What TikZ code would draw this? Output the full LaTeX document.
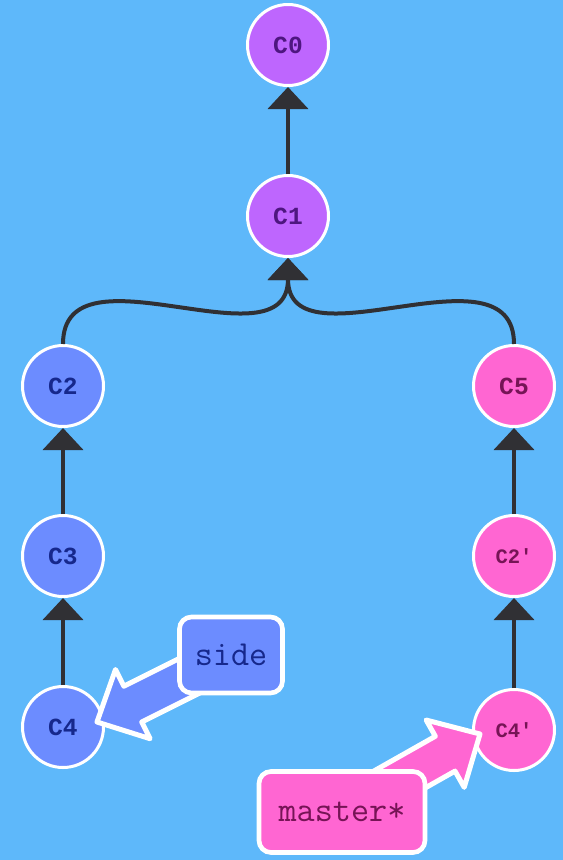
\documentclass[tikz,border=0pt]{standalone}
\usepackage{fontspec}
\newfontfamily\commitfont{Liberation Mono}
\usetikzlibrary{arrows.meta,calc}
\definecolor{bgblue}{RGB}{94,184,250}
\definecolor{cpurple}{RGB}{190,102,254}
\definecolor{tpurple}{RGB}{78,22,128}
\definecolor{cblue}{RGB}{108,140,255}
\definecolor{tblue}{RGB}{22,40,140}
\definecolor{cpink}{RGB}{255,102,210}
\definecolor{tpink}{RGB}{118,20,86}
\definecolor{linkgray}{RGB}{48,48,52}

\begin{document}
\begin{tikzpicture}[x=0.03cm, y=-0.03cm,
	commit/.style={circle, draw=white, line width=0.09cm, minimum size=2.43cm, inner sep=0pt, font=\commitfont\bfseries\fontsize{21}{21}\selectfont},
	link/.style={draw=linkgray, line width=0.12cm, -{Triangle[width=1.2cm,length=0.66cm]}},
	branch/.style={draw=white, line width=0.14cm, rounded corners=0.36cm, inner sep=0pt, font=\ttfamily\fontsize{30}{30}\selectfont}]
	\fill[bgblue] (0,0) rectangle (563,860);
	% commits
	\node[commit, fill=cpurple, text=tpurple] (c0) at (288,45) {C0};
	\node[commit, fill=cpurple, text=tpurple] (c1) at (288,216) {C1};
	\node[commit, fill=cblue, text=tblue] (c2) at (63,386) {C2};
	\node[commit, fill=cblue, text=tblue] (c3) at (63,556) {C3};
	\node[commit, fill=cblue, text=tblue] (c4) at (63,727) {C4};
	\node[commit, fill=cpink, text=tpink] (c5) at (514,386) {C5};
	\node[commit, fill=cpink, text=tpink, font=\commitfont\bfseries\fontsize{17.5}{17.5}\selectfont] (c2p) at (514,556) {C2'};
	\node[commit, fill=cpink, text=tpink, font=\commitfont\bfseries\fontsize{17.5}{17.5}\selectfont] (c4p) at (514,730) {C4'};
	% parent links
	\draw[link] (c1) -- (c0);
	\draw[link] (c2.north) .. controls (63,240) and (288,370) .. (c1.south);
	\draw[link] (c5.north) .. controls (514,240) and (288,370) .. (c1.south);
	\draw[link] (c3) -- (c2);
	\draw[link] (c4) -- (c3);
	\draw[link] (c2p) -- (c5);
	\draw[link] (c4p) -- (c2p);
	% branch pointers
	\coordinate (sidetail) at (231,655);
	\coordinate (sidetip) at (97,722);
	\coordinate (mastertail) at (342,812);
	\coordinate (mastertip) at (480,734);
	\foreach \tl/\tp/\col in {sidetail/sidetip/cblue, mastertail/mastertip/cpink} {
		\coordinate (h) at ($(\tp)!1.2cm!(\tl)$);
		\filldraw[draw=white, fill=\col, line width=0.15cm, line join=round]
			($(\tl)!0.6cm!90:(\tp)$) -- ($(h)!0.6cm!90:(\tp)$) -- ($(h)!1.16cm!90:(\tp)$) -- (\tp)
			-- ($(h)!1.16cm!-90:(\tp)$) -- ($(h)!0.6cm!-90:(\tp)$) -- ($(\tl)!0.6cm!-90:(\tp)$) -- cycle;
	}
	\node[branch, fill=cblue, text=tblue, minimum width=3.09cm, minimum height=2.28cm] (side) at (sidetail) {side};
	\node[branch, fill=cpink, text=tpink, minimum width=4.98cm, minimum height=2.43cm] (master) at (mastertail) {master*};
\end{tikzpicture}
\end{document}
